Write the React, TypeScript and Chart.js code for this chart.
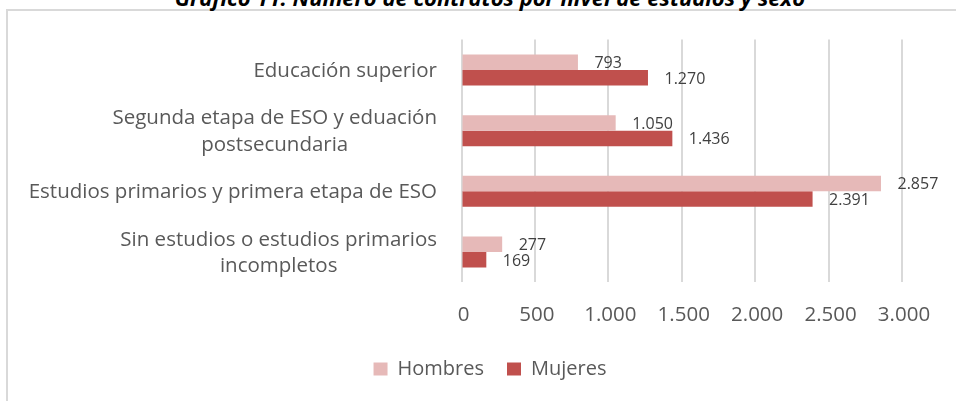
import React, { useEffect, useRef } from "react";
import { Chart, registerables } from "chart.js";

Chart.register(...registerables);

const FONT = "'Open Sans', sans-serif";

const titleText = "Gráfico 11. Número de contratos por nivel de estudios y sexo";
const categories: string[][] = [
  ["Educación superior"],
  ["Segunda etapa de ESO y eduación", "postsecundaria"],
  ["Estudios primarios y primera etapa de ESO"],
  ["Sin estudios o estudios primarios", "incompletos"],
];
const seriesNames = ["Hombres", "Mujeres"];
const hombres = [793, 1050, 2857, 277];
const mujeres = [1270, 1436, 2391, 169];
const xMin = 0;
const xMax = 3000;
const xStep = 500;

const colors = ["#E6B9B8", "#C0504D"];

const fmt = (v: number) => String(v).replace(/\B(?=(\d{3})+(?!\d))/g, ".");

const categoryLabelPlugin = {
  id: "categoryLabels",
  afterDraw(chart: any) {
    const y = chart.scales.y;
    const ctx = chart.ctx as CanvasRenderingContext2D;
    ctx.save();
    ctx.font = `20.5px ${FONT}`;
    ctx.fillStyle = "#595959";
    ctx.textBaseline = "middle";
    ctx.textAlign = "center";
    const right = chart.chartArea.left - 24.5;
    const lh = 26.5;
    categories.forEach((lines, i) => {
      const cy = y.getPixelForValue(i) + 1;
      const w = Math.max(...lines.map((l) => ctx.measureText(l).width));
      const cx = right - w / 2;
      lines.forEach((l, j) => {
        ctx.fillText(l, cx, cy + (j - (lines.length - 1) / 2) * lh);
      });
    });
    ctx.restore();
  },
};

const valueLabelPlugin = {
  id: "valueLabels",
  afterDatasetsDraw(chart: any) {
    const ctx = chart.ctx as CanvasRenderingContext2D;
    ctx.save();
    ctx.font = `16px ${FONT}`;
    ctx.fillStyle = "#404040";
    ctx.textAlign = "left";
    ctx.textBaseline = "middle";
    chart.data.datasets.forEach((ds: any, di: number) => {
      const meta = chart.getDatasetMeta(di);
      meta.data.forEach((el: any, i: number) => {
        ctx.fillText(fmt(ds.data[i]), el.x + 16.5, el.y + 1.3);
      });
    });
    ctx.restore();
  },
};

export default function App() {
  const ref = useRef<HTMLCanvasElement | null>(null);
  useEffect(() => {
    if (!ref.current) return;
    const chart = new Chart(ref.current, {
      type: "bar",
      data: {
        labels: categories.map((c) => c.join(" ")),
        datasets: [
          {
            label: seriesNames[0],
            data: hombres,
            backgroundColor: colors[0],
            categoryPercentage: 0.51,
            barPercentage: 1,
          },
          {
            label: seriesNames[1],
            data: mujeres,
            backgroundColor: colors[1],
            categoryPercentage: 0.51,
            barPercentage: 1,
          },
        ],
      },
      options: {
        indexAxis: "y",
        responsive: false,
        animation: false,
        layout: { padding: { left: 24, right: 0, top: 39.6, bottom: 12 } },
        scales: {
          x: {
            min: xMin,
            max: xMax,
            ticks: {
              stepSize: xStep,
              color: "#595959",
              font: { family: FONT, size: 20.5 },
              padding: 20.3,
              labelOffset: 2,
              callback: (v: any) => fmt(Number(v)),
            },
            grid: { color: "#d9d9d9", lineWidth: 2, drawTicks: false },
            border: { display: false },
            afterFit: (s: any) => {
              s.height = 53.6;
            },
          },
          y: {
            display: true,
            ticks: { display: false },
            grid: { display: false },
            border: { display: false },
            afterFit: (s: any) => {
              s.width = 437.5;
            },
          },
          y2: {
            type: "linear",
            position: "right",
            display: true,
            ticks: { display: false },
            grid: { display: false },
            border: { display: false },
            afterFit: (s: any) => {
              s.width = 54;
            },
          },
        },
        plugins: {
          legend: {
            position: "bottom",
            labels: {
              boxWidth: 14,
              boxHeight: 13,
              color: "#595959",
              font: { family: FONT, size: 20 },
              padding: 23,
            },
          },
          tooltip: { enabled: false },
          title: { display: false },
        },
      } as any,
      plugins: [categoryLabelPlugin, valueLabelPlugin],
    });
    return () => chart.destroy();
  }, []);

  return (
    <div
      style={{
        position: "fixed",
        left: 0,
        top: 0,
        width: 956,
        height: 401,
        overflow: "hidden",
        background: "#ffffff",
      }}
    >
      <div
        style={{
          position: "absolute",
          left: 6,
          top: 9,
          width: 1200,
          height: 800,
          borderLeft: "2px solid #d9d9d9",
          borderTop: "2px solid #d9d9d9",
        }}
      />
      <div
        style={{
          position: "absolute",
          left: 0,
          width: 980,
          top: -14.5,
          textAlign: "center",
          fontFamily: FONT,
          fontWeight: 700,
          fontStyle: "italic",
          fontSize: 22,
          lineHeight: "22px",
          color: "#000000",
          whiteSpace: "nowrap",
        }}
      >
        {titleText}
      </div>
      <canvas
        ref={ref}
        width={956}
        height={401}
        style={{ position: "absolute", left: 0, top: 0, width: 956, height: 401 }}
      />
    </div>
  );
}
